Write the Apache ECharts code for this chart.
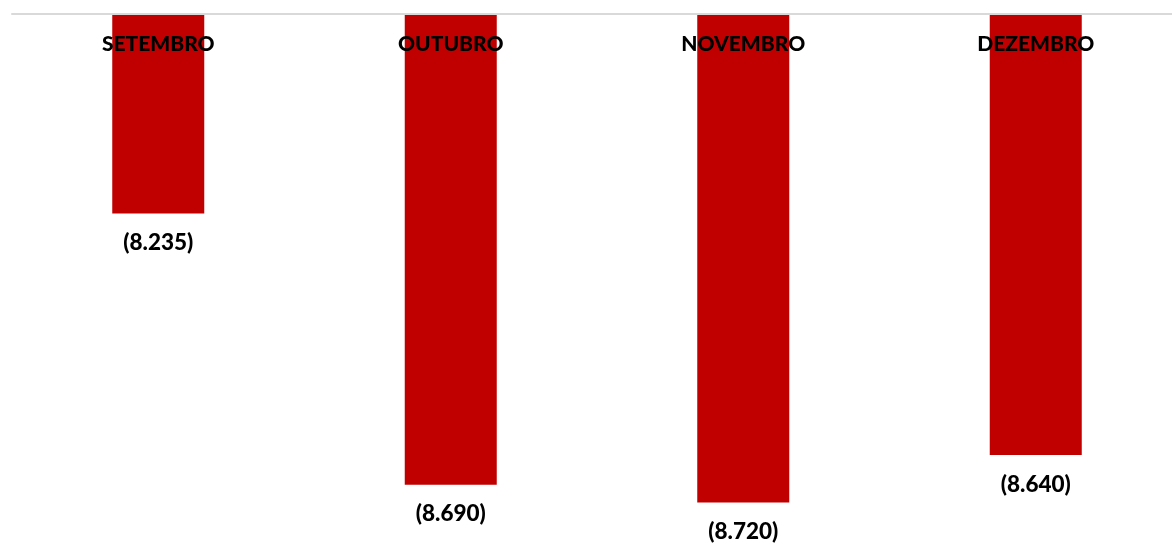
<!DOCTYPE html>
<html>
<head>
<meta charset="utf-8">
<script src="https://cdn.jsdelivr.net/npm/echarts@6/dist/echarts.min.js"></script>
<style>
html,body{margin:0;padding:0;background:#fff;}
#chart{width:1172px;height:544px;}
</style>
</head>
<body>
<div id="chart"></div>
<script>
var categories = ['SETEMBRO', 'OUTUBRO', 'NOVEMBRO', 'DEZEMBRO'];
var values = [-8235, -8690, -8720, -8640];

function fmt(v) {
  var a = Math.abs(v);
  var s = String(a).replace(/\B(?=(\d{3})+(?!\d))/g, '.');
  return v < 0 ? '(' + s + ')' : s;
}

var FONT = 'Lato, "Liberation Sans", Arial, sans-serif';
var chart = echarts.init(document.getElementById('chart'));
chart.setOption({
  animation: false,
  grid: { left: 12, top: 14, width: 1170, height: 506.5, outerBoundsMode: 'none', containLabel: false },
  xAxis: {
    type: 'category',
    data: categories,
    position: 'top',
    axisLine: { show: true, onZero: false, lineStyle: { color: '#d9d9d9', width: 2 } },
    axisTick: { show: false },
    axisLabel: {
      inside: true,
      margin: 20,
      color: '#000',
      fontWeight: 900,
      fontSize: 21,
      fontFamily: FONT
    },
    z: 10
  },
  yAxis: {
    type: 'value',
    min: -8750,
    max: -7900,
    show: false,
    splitLine: { show: false }
  },
  series: [{
    type: 'bar',
    data: values,
    barWidth: 92,
    clip: true,
    itemStyle: { color: '#c00000' },
    label: {
      show: true,
      position: 'outside',
      distance: 18,
      color: '#000',
      fontWeight: 900,
      fontSize: 22.5,
      fontFamily: FONT,
      formatter: function (p) { return fmt(p.value); }
    }
  }]
});
</script>
</body>
</html>
